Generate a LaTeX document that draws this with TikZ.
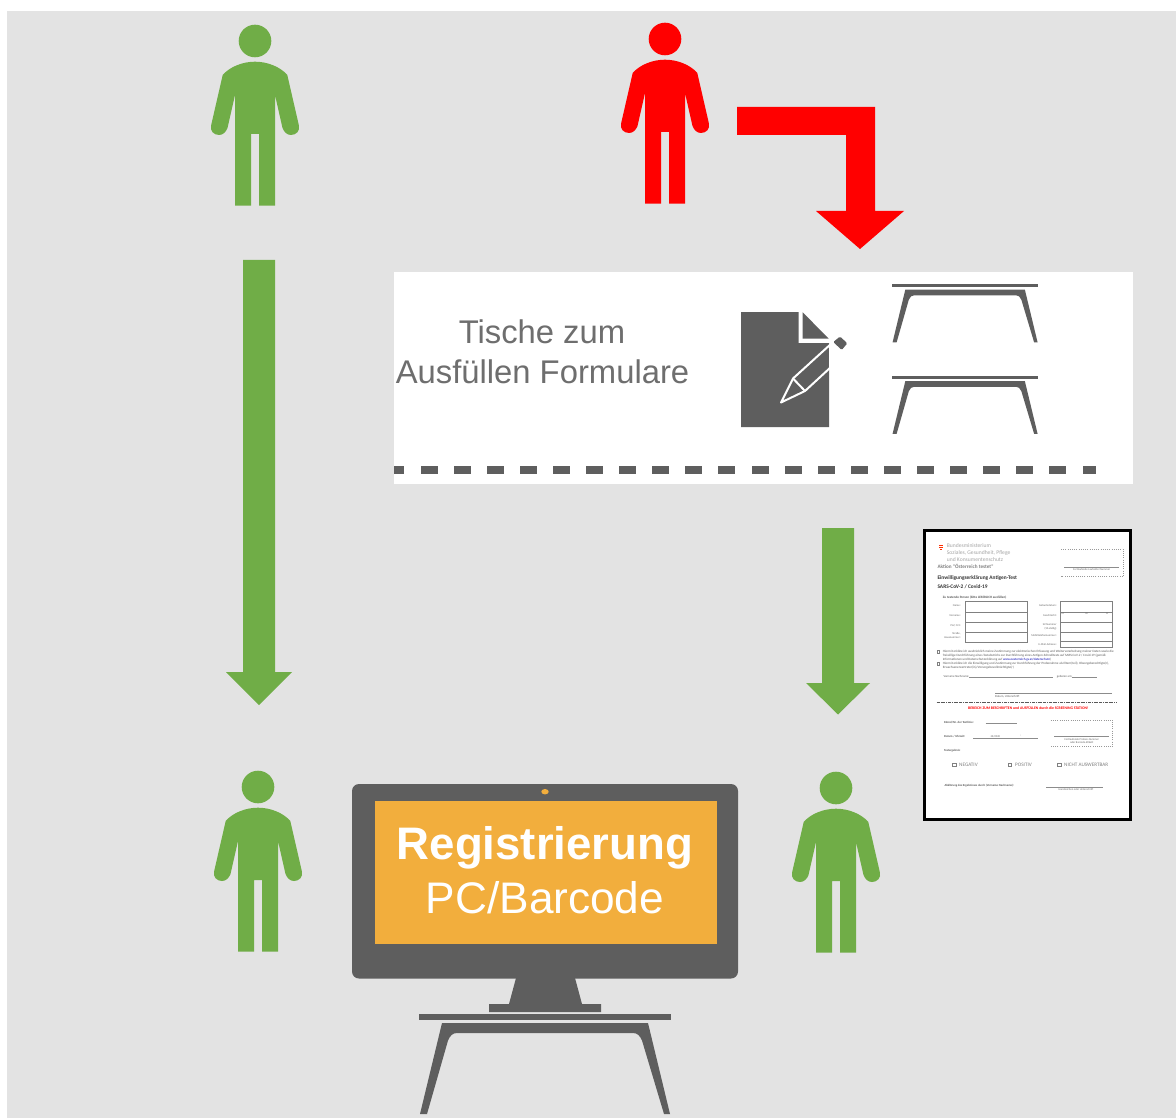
\documentclass[tikz,border=0pt]{standalone}
\usepackage{fontspec}
\setmainfont{Liberation Sans}
\newfontfamily\formfont{Carlito}
\definecolor{bggray}{HTML}{E3E3E3}
\definecolor{darkgray}{HTML}{5E5E5E}
\definecolor{grn}{HTML}{70AD47}
\definecolor{orng}{HTML}{F2AE3D}
\definecolor{labelgray}{HTML}{6E6E6E}
\newcommand{\fsz}[1]{\fontsize{#1}{#1}\selectfont}
\tikzset{
  person/.pic={
    \path[pic actions] (0,0) circle (16.3);
    \path[pic actions] (-32.3,34) .. controls (-25,25.5) and (-12,20.7) .. (0,20.7)
      .. controls (12,20.7) and (25,25.5) .. (32.3,34)
      -- (43.8,84) .. controls (45.5,90) and (41,94) .. (36,94)
      .. controls (32,94) and (29,91) .. (27.5,87)
      -- (20,54) -- (20,164.7) -- (4,164.7) -- (4,93) -- (-4,93) -- (-4,164.7) -- (-20,164.7) -- (-20,54)
      -- (-27.5,87) .. controls (-29,91) and (-32,94) .. (-36,94)
      .. controls (-41,94) and (-45.5,90) .. (-43.8,84) -- cycle;
  },
  deskicon/.pic={
    \fill[darkgray] (0,0) rectangle (252,6);
    \fill[darkgray] (23,9.5) -- (229,9.5) -- (251,100.5) -- (245,100.5) -- (223,27)
      .. controls (221,22) and (218,19.5) .. (214,19.5) -- (38,19.5)
      .. controls (34,19.5) and (31,22) .. (29,27) -- (8,100.5) -- (1,100.5) -- cycle;
  },
  blockred/.style={fill=red},
  blockgreen/.style={fill=grn},
  greenperson/.style={fill=grn},
  redperson/.style={fill=red},
  labeltxt/.style={anchor=base,inner sep=0pt,text=labelgray,font=\fsz{32.8}},
  screenbold/.style={anchor=base,inner sep=0pt,text=white,font=\fsz{45.6}\bfseries},
  screenplain/.style={anchor=base,inner sep=0pt,text=white,font=\fsz{44.2}},
  ft/.style={anchor=west,inner sep=0pt,text=black!65,font=\formfont\fsz{3}},
  ftb/.style={ft,font=\formfont\bfseries\fsz{3}},
  fr/.style={anchor=east,inner sep=0pt,text=black!60,font=\formfont\fsz{2.8}},
  fc/.style={anchor=center,inner sep=0pt,text=black!60,font=\formfont\fsz{2.8}},
  fline/.style={draw=black!45,line width=.35pt},
  fbox/.style={draw=black!50,line width=.6pt},
  fdot/.style={draw=black!40,line width=.5pt,dash pattern=on 1pt off 1.2pt},
  fcheck/.style={draw=black!50,line width=.5pt},
}
\begin{document}
\begin{tikzpicture}[x=1pt,y=-1pt]
\useasboundingbox (0,0) rectangle (1176,1118);
\fill[white] (0,0) rectangle (1176,1118);
\fill[bggray] (7,11) rectangle (1176,1118);

% people
\pic[greenperson] at (255,41) {person};
\pic[redperson] at (665,39) {person};
\pic[greenperson] at (258,787) {person};
\pic[greenperson] at (836,788) {person};

% block arrows
\fill[blockgreen] (243,260) -- (275,260) -- (275,672) -- (292,672) -- (259,705) -- (226,672) -- (243,672) -- cycle;
\fill[blockgreen] (822,528) -- (854,528) -- (854,683) -- (870,683) -- (838,714.5) -- (806,683) -- (822,683) -- cycle;
\fill[blockred] (737,107) -- (875,107) -- (875,211) -- (904,211) -- (860,249) -- (816,211) -- (846,211) -- (846,135) -- (737,135) -- cycle;

% white panel
\fill[white] (394,272) rectangle (1133,484);
\node[labeltxt] (tische) at (542,343) {Tische zum};
\node[labeltxt] (ausfuellen) at (542.5,383) {Ausfüllen Formulare};
\fill[darkgray] (394,466) rectangle (404,474);
\foreach \k in {0,...,19} {
  \fill[darkgray] ({420.5+33.1*\k},466) rectangle ({437.5+33.1*\k},474);
}
\fill[darkgray] (1083,466) rectangle (1096,474);

% document and pencil icon
\fill[darkgray] (741,312) -- (798.5,312) -- (798.5,343) -- (829,343) -- (829,427) -- (741,427) -- cycle;
\fill[darkgray] (802.7,312.3) -- (828.5,338.5) -- (802.7,338.5) -- cycle;
\draw[white,line width=2pt,line join=round] (781,402.5) -- (793,378.5) -- (832,343) -- (844,355) -- (805,391) -- cycle;
\draw[white,line width=2pt] (793,378.5) -- (805,391);
\fill[white] (829,345) -- (843,355) -- (829,369) -- cycle;
\fill[darkgray,rounded corners=1.2pt] (833.3,342) -- (840,336.5) -- (847.3,343.3) -- (841.7,350) -- cycle;

% desks on the panel
\pic[scale=.58] at (892,284) {deskicon};
\pic[scale=.58] at (892,375.5) {deskicon};

% monitor
\fill[darkgray,rounded corners=7pt] (352,784) rectangle (738,978.5);
\fill[orng] (375,801) rectangle (717,944);
\fill[orng] (545,791.7) ellipse (3.7 and 2.7);
\node[screenbold] (regist) at (545,859.5) {Registrierung};
\node[screenplain] (pcbar) at (545,913) {PC/Barcode};
\fill[darkgray] (516,978) -- (575,978) -- (582,1004) -- (601,1004) -- (601,1012) -- (489,1012) -- (489,1004) -- (509,1004) -- cycle;
\pic at (419,1013.5) {deskicon};

% form sheet
\fill[black] (923.3,529) rectangle (1131.7,820.7);
\fill[white] (926,531.7) rectangle (1129,818);
\fill[red!65!orange] (938.5,545.2) rectangle (943,546);
\fill[red!65!orange] (939,547) rectangle (942.5,547.8);
\fill[red!65!orange] (939.5,548.8) rectangle (942,549.6);
\node[ft,text=black!35,font=\formfont\fsz{5.6}] (f1) at (946.7,545.7) {Bundesministerium};
\node[ft,text=black!35,font=\formfont\fsz{5.6}] (f2) at (946.7,553) {Soziales, Gesundheit, Pflege};
\node[ft,text=black!35,font=\formfont\fsz{5.6}] (f3) at (946.7,559.3) {und Konsumentenschutz};
\node[ft,text=black!50,font=\formfont\bfseries\fsz{5.2}] (f4) at (937.3,566.7) {Aktion "Österreich testet"};
\node[ft,text=black!80,font=\formfont\bfseries\fsz{5.4}] (f5) at (937.3,578.3) {Einwilligungserklärung Antigen-Test};
\node[ft,text=black!80,font=\formfont\bfseries\fsz{5.4}] (f6) at (937.3,586.3) {SARS-CoV-2 / Covid-19};
\draw[fdot] (1061,549.3) -- (1123.3,549.3) -- (1123.3,576.7) -- (1061,576.7);
\draw[fline] (1064,566.7) -- (1119,566.7);
\node[fc] (f7) at (1091.7,569.3) {Fortlaufende Laufzettel Nummer};
\node[ftb,font=\formfont\bfseries\fsz{3.3}] (f8) at (942.7,597.7) {Zu testende Person (bitte LESERLICH ausfüllen)};

\foreach \ya/\yb in {601.7/612.3,612.3/622.7,622.7/632.7,632.7/642.3} {
  \draw[fbox] (965,\ya) rectangle (1027.3,\yb);
}
\foreach \ya/\yb in {601.7/612.3,612.3/622.7,622.7/632.7,632.7/641.7,641.7/647.7} {
  \draw[fbox] (1060,\ya) rectangle (1112.7,\yb);
}
\node[fr] (l1) at (960.7,606) {Name:};
\node[fr] (l2) at (960.7,616) {Vorname:};
\node[fr] (l3) at (960.7,626) {PLZ, Ort:};
\node[fr] (l4) at (960.7,634) {Straße,};
\node[fr] (l5) at (960.7,638) {Hausnummer:};
\node[fr] (r1) at (1056.7,606) {Geburtsdatum:};
\node[fr] (r2) at (1056.7,616) {Geschlecht:};
\node[fr] (r3) at (1056.7,624.3) {SV-Nummer};
\node[fr] (r4) at (1056.7,628.3) {(10-stellig)};
\node[fr] (r5) at (1056.7,636) {Mobiltelefonnummer:};
\node[fr] (r6) at (1056.7,644.3) {E-Mail-Adresse:};
\node[fc] (gm) at (1062.7,614) {M};
\node[fc] (gw) at (1086.7,614) {W};
\node[fc] (gd) at (1107.3,614) {D};

\draw[fcheck] (937,650.7) rectangle (939.6,653.3);
\draw[fcheck] (937,662.7) rectangle (939.6,665.3);
\node[ft,font=\formfont\fsz{3.25}] (c1) at (942.7,652) {Hiermit erkläre ich ausdrücklich meine Zustimmung zur elektronischen Erfassung und Weiterverarbeitung meiner Daten sowie die};
\node[ft,font=\formfont\fsz{3.25}] (c2) at (942.7,655.8) {freiwillige Durchführung eines Testabstrichs zur Durchführung eines Antigen-Schnelltests auf SARS-CoV-2 / Covid-19 (gemäß};
\node[ft,font=\formfont\fsz{3.25}] (c3) at (942.7,659.6) {Informationen und Datenschutzerklärung auf \textcolor{blue!70!black}{www.oesterreich.gv.at/datenschutz})};
\node[ft,font=\formfont\fsz{3.25}] (c4) at (942.7,664) {Hiermit erkläre ich die Einwilligung und Zustimmung zur Durchführung der Probenahme als Eltern(teil), Obsorgeberechtigte(r),};
\node[ft,font=\formfont\fsz{3.25}] (c5) at (942.7,667.7) {Erwachsenenvertreter(in)/Vorsorgebevollmächtigte(r)};

\node[ft] (v1) at (943.3,676.7) {Vorname Nachname:};
\draw[fline] (969.3,677.5) -- (1052.7,677.5);
\node[ft] (v2) at (1056.7,676.7) {geboren am:};
\draw[fline] (1071.7,677.5) -- (1096.7,677.5);
\draw[fline] (995,693.3) -- (1111.7,693.3);
\node[ft] (v3) at (995,696.7) {Datum, Unterschrift};
\draw[draw=black!65,line width=.7pt,dash pattern=on 3pt off .8pt on 1pt off .8pt] (936.7,702.3) -- (1117.3,702.3);
\node[anchor=center,inner sep=0pt,text=red,font=\formfont\bfseries\fsz{3.8}] (v4) at (1028.3,707.7) {BEREICH ZUM BESCHRIFTEN und AUSFÜLLEN durch die SCREENING STATION!};

\node[ftb] (k1) at (944,722.3) {Kürzel/Nr. der Testlinie:};
\draw[fline] (985.7,723.5) -- (1016.7,723.5);
\draw[fdot] (1050.7,720) -- (1112.7,720) -- (1112.7,746.7) -- (1050.7,746.7);
\draw[fline] (1054,736) -- (1109.3,736);
\node[fc] (k2) at (1081.7,739.3) {Fortlaufende Proben-Nummer};
\node[fc] (k3) at (1081.7,742.7) {oder Barcode-Etikett};
\node[ftb] (k4) at (944,736.7) {Datum / Uhrzeit:};
\draw[fline] (973.3,738) -- (1038.3,738);
\node[fc] (k5) at (995,736.3) {.12/2020};
\node[fc] (k6) at (1020.7,736.3) {:};
\node[ftb] (k7) at (944,751) {Testergebnis:};

\draw[fcheck] (952.7,763.3) rectangle (956,766.7);
\node[ft,text=black!50,font=\formfont\fsz{5.2}] (e1) at (959,765) {NEGATIV};
\draw[fcheck] (1008.3,763.3) rectangle (1011.7,766.7);
\node[ft,text=black!50,font=\formfont\fsz{5.2}] (e2) at (1015,765) {POSITIV};
\draw[fcheck] (1057.7,763.3) rectangle (1061,766.7);
\node[ft,text=black!50,font=\formfont\fsz{5.2}] (e3) at (1064,765) {NICHT AUSWERTBAR};

\node[ftb] (a1) at (944.3,785.3) {Abklärung des Ergebnisses durch (Vorname Nachname):};
\draw[fline] (1046,786.7) -- (1102.7,786.7);
\node[fc] (a2) at (1076,789.3) {Handzeichen oder Unterschrift};
\end{tikzpicture}
\end{document}
